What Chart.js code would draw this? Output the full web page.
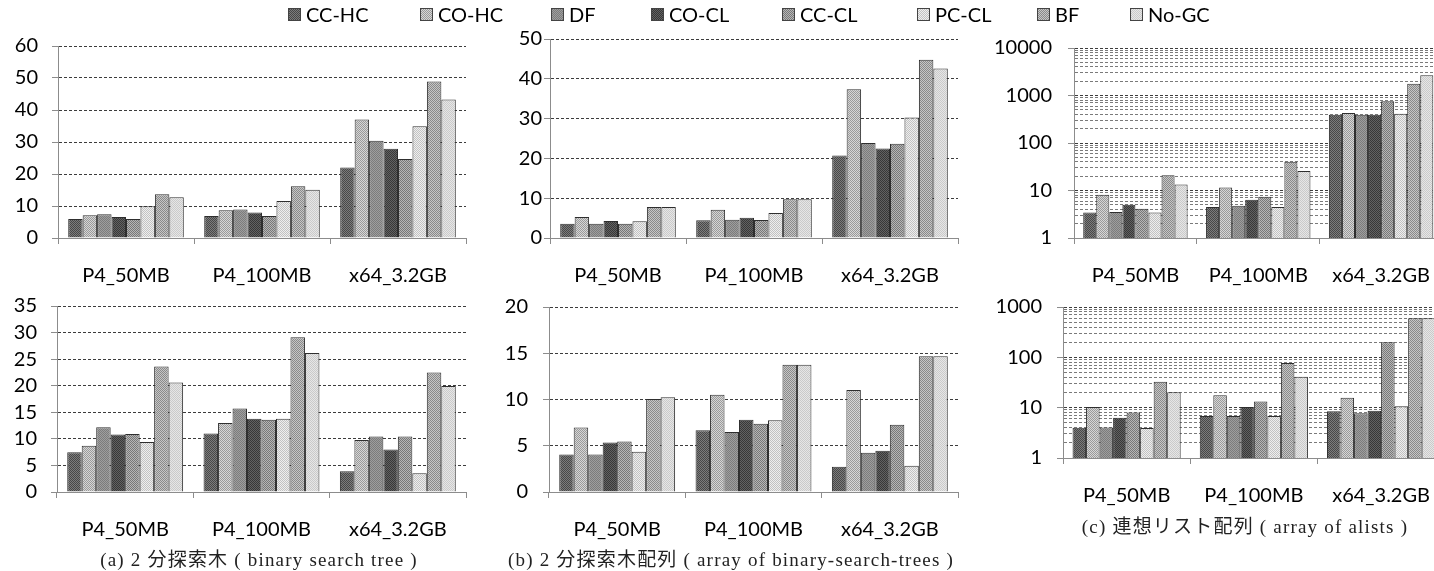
<!DOCTYPE html>
<html>
<head>
<meta charset="utf-8">
<script src="https://cdn.jsdelivr.net/npm/chart.js@4.4.0/dist/chart.umd.min.js"></script>
<style>
  html, body { margin: 0; padding: 0; background: #fff; overflow: hidden; width: 1434px; height: 571px; }
  .leg { position: absolute; top: 2px; height: 24px; display: flex; align-items: center;
         font: 20px Lato, sans-serif; color: #000; white-space: nowrap; }
  .leg canvas { margin-right: 5px; }
  .cap { position: absolute; transform: translateX(-50%); white-space: nowrap; color: #222;
         font: 19px "Liberation Serif", "Noto Sans CJK JP", serif; letter-spacing: 1.2px; }
</style>
</head>
<body>
<script>
const categories  = ['P4_50MB', 'P4_100MB', 'x64_3.2GB'];
const seriesNames = ['CC-HC', 'CO-HC', 'DF', 'CO-CL', 'CC-CL', 'PC-CL', 'BF', 'No-GC'];

// one row per series (same order as seriesNames), one column per category
const bstUpper = [
  [5.9, 6.9, 22.0],
  [7.1, 8.7, 37.0],
  [7.4, 8.9, 30.4],
  [6.6, 8.0, 27.9],
  [5.9, 6.9, 24.7],
  [9.9, 11.6, 34.9],
  [13.7, 16.2, 48.9],
  [12.7, 15.1, 43.3],
];
const bstLower = [
  [7.5, 11.0, 3.9],
  [8.7, 13.0, 9.8],
  [12.2, 15.7, 10.45],
  [10.8, 13.8, 8.0],
  [10.9, 13.6, 10.45],
  [9.4, 13.8, 3.55],
  [23.6, 29.1, 22.5],
  [20.6, 26.15, 19.95],
];
const bstArrUpper = [
  [3.6, 4.45, 20.7],
  [5.3, 7.1, 37.4],
  [3.6, 4.6, 23.9],
  [4.3, 5.1, 22.5],
  [3.6, 4.5, 23.7],
  [4.2, 6.3, 30.3],
  [7.8, 9.75, 44.8],
  [7.8, 9.75, 42.6],
];
const bstArrLower = [
  [4.05, 6.68, 2.73],
  [6.98, 10.52, 11.03],
  [4.05, 6.48, 4.25],
  [5.36, 7.82, 4.45],
  [5.46, 7.39, 7.28],
  [4.35, 7.76, 2.83],
  [10.05, 13.76, 14.67],
  [10.25, 13.76, 14.67],
];
const alistUpper = [
  [3.46, 4.51, 395],
  [8.14, 11.6, 427],
  [3.52, 4.8, 395],
  [5.03, 6.35, 395],
  [4.11, 7.42, 759],
  [3.46, 4.51, 414],
  [21.0, 40.3, 1757],
  [13.4, 25.7, 2672],
];
const alistLower = [
  [3.99, 6.83, 8.44],
  [10.3, 17.6, 15.7],
  [4.05, 6.83, 7.76],
  [6.28, 10.3, 8.69],
  [7.98, 13.3, 200],
  [3.94, 6.83, 10.7],
  [32.8, 77.6, 600],
  [20.3, 41.1, 600],
];

const captions = [
  '(a) 2 分探索木 ( binary search tree )',
  '(b) 2 分探索木配列 ( array of binary-search-trees )',
  '(c) 連想リスト配列 ( array of alists )',
];

/* ---- looks ---- */
const tones = [
  ['#484848', '#7c7c7c'],
  ['#9a9a9a', '#d6d6d6'],
  ['#7c7c7c', '#9e9e9e'],
  ['#383838', '#626262'],
  ['#787878', '#b6b6b6'],
  ['#c2c2c2', '#eeeeee'],
  ['#8a8a8a', '#c6c6c6'],
  ['#cacaca', '#e6e6e6'],
];
const legendX = [288, 420, 551, 651, 782, 917, 1037, 1130];
const AXIS = '#8c8c8c', GRID = '#3c3c3c', MINOR = '#7a7a7a';

function checker(dark, light) {
  const c = document.createElement('canvas');
  c.width = 2; c.height = 2;
  const g = c.getContext('2d');
  g.fillStyle = light; g.fillRect(0, 0, 2, 2);
  g.fillStyle = dark;  g.fillRect(0, 0, 1, 1); g.fillRect(1, 1, 1, 1);
  return g.createPattern(c, 'repeat');
}
const fills = tones.map(([a, b]) => checker(a, b));

const isDecade = v => Math.abs(Math.log10(v) - Math.round(Math.log10(v))) < 1e-9;
function logTicks(max) {
  const out = [];
  for (let d = 1; d < max; d *= 10)
    for (let m = 1; m < 10; m++) out.push(d * m);
  out.push(max);
  return out;
}

Chart.defaults.font.family = 'Lato';
Chart.defaults.color = '#000';

function barChart(c) {
  const cv = document.createElement('canvas');
  cv.width = c.w; cv.height = c.h;
  cv.style.cssText = `position:absolute;left:${c.left}px;top:${c.top}px;width:${c.w}px;height:${c.h}px`;
  document.body.appendChild(cv);

  let y;
  if (c.log) {
    y = {
      type: 'logarithmic', min: 1, max: c.max,
      afterBuildTicks: s => { s.ticks = logTicks(c.max).map(v => ({ value: v })); },
      ticks: { autoSkip: false, padding: c.yPad, font: { size: 20 },
               callback: v => isDecade(v) ? String(Math.round(v)) : '' },
      grid: { color: k => isDecade(k.tick.value) ? GRID : MINOR, tickLength: 6,
              tickColor: k => isDecade(k.tick.value) ? AXIS : 'rgba(0,0,0,0)', tickBorderDash: [] },
    };
  } else {
    y = {
      min: 0, max: c.max,
      ticks: { stepSize: c.step, autoSkip: false, padding: c.yPad, font: { size: 20 } },
      grid: { color: GRID, tickLength: 6, tickColor: AXIS, tickBorderDash: [] },
    };
  }
  y.border = { color: AXIS, width: 1, dash: [3, 2] };
  y.afterFit = s => { s.width = c.yw; };

  return new Chart(cv, {
    type: 'bar',
    data: {
      labels: categories,
      datasets: seriesNames.map((name, i) => ({
        label: name,
        data: c.rows[i],
        backgroundColor: fills[i],
        borderColor: '#2e2e2e',
        borderWidth: 1,
        categoryPercentage: 0.85,
        barPercentage: 1,
      })),
    },
    options: {
      responsive: false,
      animation: false,
      layout: { padding: { top: c.padTop, right: c.padRight, left: 0, bottom: 0 } },
      plugins: { legend: { display: false }, tooltip: { enabled: false } },
      scales: {
        x: {
          grid: { offset: true, drawOnChartArea: false, tickLength: 6, color: AXIS },
          border: { color: AXIS, width: 1 },
          ticks: { padding: 20, maxRotation: 0, font: { size: 20 } },
          afterFit: s => { s.height = c.xh; },
        },
        y,
      },
    },
  });
}

barChart({ rows: bstUpper,    left: 0,   top: 20,  w: 470, h: 270, yw: 58,  xh: 52, padTop: 19, padRight: 4, max: 60, step: 10, yPad: 14 });
barChart({ rows: bstArrUpper, left: 480, top: 20,  w: 480, h: 270, yw: 70,  xh: 52, padTop: 19, padRight: 2, max: 50, step: 10, yPad: 2 });
barChart({ rows: alistUpper,  left: 960, top: 20,  w: 490, h: 270, yw: 114, xh: 52, padTop: 20, padRight: 0, max: 10000, log: true, yPad: 16 });
barChart({ rows: bstLower,    left: 0,   top: 280, w: 470, h: 265, yw: 57,  xh: 53, padTop: 15, padRight: 4, max: 35, step: 5, yPad: 14 });
barChart({ rows: bstArrLower, left: 480, top: 280, w: 480, h: 265, yw: 69,  xh: 53, padTop: 15, padRight: 2, max: 20, step: 5, yPad: 15 });
barChart({ rows: alistLower,  left: 960, top: 280, w: 490, h: 230, yw: 103, xh: 52, padTop: 15, padRight: 0, max: 1000, log: true, yPad: 15 });

// shared legend
seriesNames.forEach((name, i) => {
  const d = document.createElement('div');
  d.className = 'leg';
  d.style.left = legendX[i] + 'px';
  const sw = document.createElement('canvas');
  sw.width = 13; sw.height = 13;
  const g = sw.getContext('2d');
  g.fillStyle = fills[i]; g.fillRect(0, 0, 13, 13);
  g.strokeStyle = '#444'; g.strokeRect(0.5, 0.5, 12, 12);
  d.appendChild(sw);
  d.appendChild(document.createTextNode(name));
  document.body.appendChild(d);
});

// captions
[[259, 544], [731, 544], [1245, 511]].forEach(([x, y], i) => {
  const d = document.createElement('div');
  d.className = 'cap';
  d.style.left = x + 'px';
  d.style.top = y + 'px';
  d.textContent = captions[i];
  document.body.appendChild(d);
});
</script>
</body>
</html>
